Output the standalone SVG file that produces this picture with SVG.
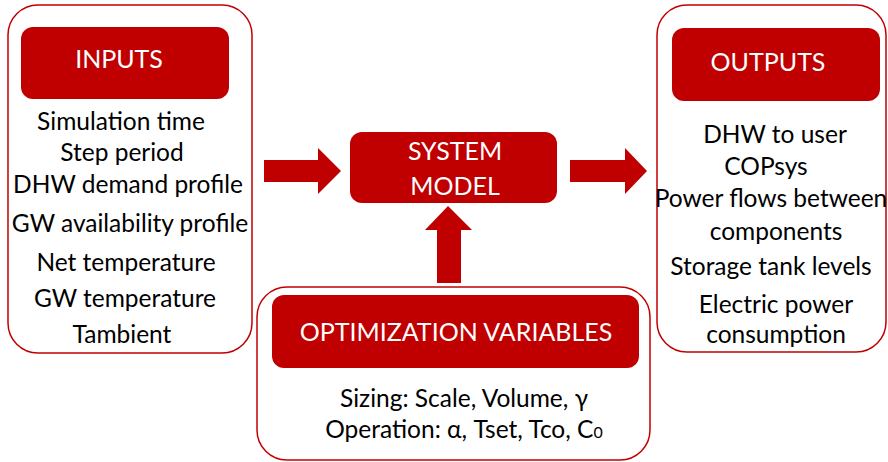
<svg xmlns="http://www.w3.org/2000/svg" width="888" height="462" viewBox="0 0 888 462">
  <style>
    .frame { fill: #ffffff; stroke: #c00000; stroke-width: 1.5; }
    .head { fill: #c00000; }
    .arrow { fill: #c00000; }
    text { font-family: Lato, "Open Sans", "Liberation Sans", sans-serif; text-anchor: middle; }
    .title { fill: #ffffff; font-size: 25px; }
    .item { fill: #000000; font-size: 24.5px; }
  </style>
  <rect width="888" height="462" fill="#ffffff"/>

  <!-- connectors -->
  <g id="connectors">
    <polygon class="arrow" points="264,160 318,160 318,148 341,171 318,194 318,182 264,182"/>
    <polygon class="arrow" points="570,160 625,160 625,148 647,171 625,194 625,182 570,182"/>
    <polygon class="arrow" points="437,283 437,230 425,230 448,206 472,230 461,230 461,283"/>
  </g>

  <g id="inputs">
    <rect class="frame" x="8" y="5" width="244" height="348" rx="30"/>
    <rect class="head" x="21" y="27" width="208" height="72" rx="12"/>
    <text class="title" x="119" y="68">INPUTS</text>
    <text class="item" x="121" y="130">Simulation time</text>
    <text class="item" x="122" y="161">Step period</text>
    <text class="item" x="128" y="193">DHW demand profile</text>
    <text class="item" x="130" y="232">GW availability profile</text>
    <text class="item" x="126" y="271">Net temperature</text>
    <text class="item" x="125" y="307">GW temperature</text>
    <text class="item" x="122" y="343">Tambient</text>
  </g>

  <g id="system-model">
    <rect class="head" x="350" y="132" width="207" height="71" rx="12"/>
    <text class="title" x="455" y="160">SYSTEM</text>
    <text class="title" x="455" y="195">MODEL</text>
  </g>

  <g id="outputs">
    <rect class="frame" x="657" y="5" width="229" height="347" rx="30"/>
    <rect class="head" x="672" y="28" width="208" height="73" rx="12"/>
    <text class="title" x="768" y="71">OUTPUTS</text>
    <text class="item" x="775" y="143">DHW to user</text>
    <text class="item" x="766" y="175">COPsys</text>
    <text class="item" x="771" y="207" font-size="23.6">Power flows between</text>
    <text class="item" x="776" y="240">components</text>
    <text class="item" x="771" y="275">Storage tank levels</text>
    <text class="item" x="776" y="313">Electric power</text>
    <text class="item" x="776" y="343">consumption</text>
  </g>

  <g id="optimization-variables">
    <rect class="frame" x="257" y="287" width="393" height="173" rx="30"/>
    <rect class="head" x="272" y="295" width="367" height="73" rx="12"/>
    <text class="title" x="456" y="341">OPTIMIZATION VARIABLES</text>
    <text class="item" x="464" y="407">Sizing: Scale, Volume, γ</text>
    <text class="item" x="464" y="438">Operation: α, Tset, Tco, C<tspan font-size="16">0</tspan></text>
  </g>
</svg>
